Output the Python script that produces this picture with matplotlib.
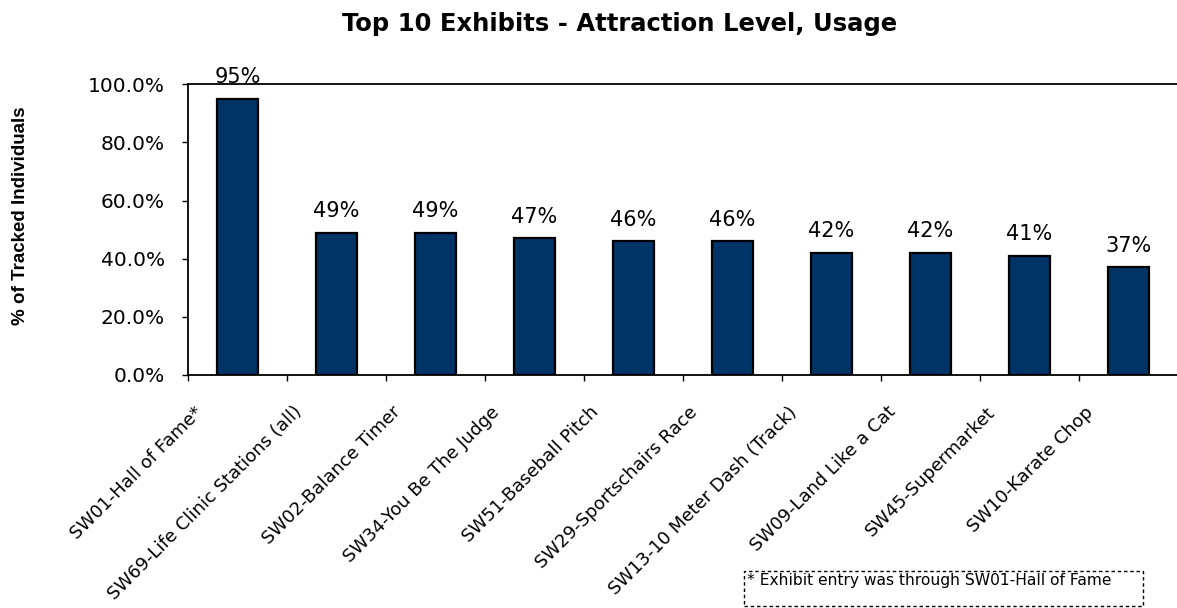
import numpy as np
import matplotlib
matplotlib.use("Agg")
import matplotlib.pyplot as plt
from matplotlib.patches import Rectangle
from matplotlib.transforms import ScaledTranslation
from matplotlib.ticker import FuncFormatter

exhibits = [
    "SW01-Hall of Fame*",
    "SW69-Life Clinic Stations (all)",
    "SW02-Balance Timer",
    "SW34-You Be The Judge",
    "SW51-Baseball Pitch",
    "SW29-Sportschairs Race",
    "SW13-10 Meter Dash (Track)",
    "SW09-Land Like a Cat",
    "SW45-Supermarket",
    "SW10-Karate Chop",
]
usage = [0.95, 0.49, 0.49, 0.47, 0.46, 0.46, 0.42, 0.42, 0.41, 0.37]
y_ticks = [0.0, 0.2, 0.4, 0.6, 0.8, 1.0]

W, H = 1177, 608
fig = plt.figure(figsize=(W / 100, H / 100), dpi=100)
ax = fig.add_axes([188 / W, 1 - 375 / H, 990 / W, (375 - 84.3) / H])

x = np.arange(len(exhibits))
ax.bar(x, usage, width=0.41, color="#003366", edgecolor="black", linewidth=1.6, zorder=3)

for xi, v in zip(x, usage):
    ax.annotate(f"{v:.0%}", (xi, v), xytext=(0, 11.3), textcoords="offset points",
                ha="center", va="baseline", fontsize=15, family="DejaVu Sans")

ax.set_xlim(-0.5, len(exhibits) - 0.5)
ax.set_ylim(0, 1.0)

# y axis
ax.set_yticks(y_ticks)
ax.yaxis.set_major_formatter(FuncFormatter(lambda v, p: f"{v * 100:.1f}%"))
ax.tick_params(axis="y", direction="out", length=4.5, width=1, pad=12, labelsize=14.5)

# x axis: marks between categories, labels under bars
ax.set_xticks(x)
ax.set_xticks(np.arange(-0.5, len(exhibits), 1), minor=True)
ax.tick_params(axis="x", which="major", length=0, pad=0)
ax.tick_params(axis="x", which="minor", direction="out", length=4, width=1)
ax.set_xticklabels(exhibits, rotation=45, ha="right", va="top",
                   rotation_mode="anchor", fontsize=13)
shift = ScaledTranslation(-0.44, -0.28, fig.dpi_scale_trans)
for lbl in ax.get_xticklabels():
    lbl.set_transform(lbl.get_transform() + shift)

for side in ["left", "bottom", "top"]:
    ax.spines[side].set_linewidth(1.3)
    ax.spines[side].set_color("black")
ax.spines["right"].set_visible(False)

fig.text(620 / W, 1 - 30.7 / H, "Top 10 Exhibits - Attraction Level, Usage",
         ha="center", va="baseline", fontsize=17.5, fontweight="bold", family="DejaVu Sans")
fig.text(21 / W, 1 - 216 / H, "% of Tracked Individuals", rotation=90,
         ha="center", va="center", fontsize=13.5, fontweight="bold", family="Liberation Sans")

# footnote box
fig.patches.append(Rectangle((744 / W, 1 - 606 / H), 399 / W, 35 / H, transform=fig.transFigure,
                             fill=False, edgecolor="black", linewidth=1, linestyle=(0, (2.5, 2))))
fig.text(747 / W, 1 - 573 / H, "* Exhibit entry was through SW01-Hall of Fame",
         ha="left", va="top", fontsize=11.2, family="DejaVu Sans")

fig.savefig("out.png", dpi=100)
